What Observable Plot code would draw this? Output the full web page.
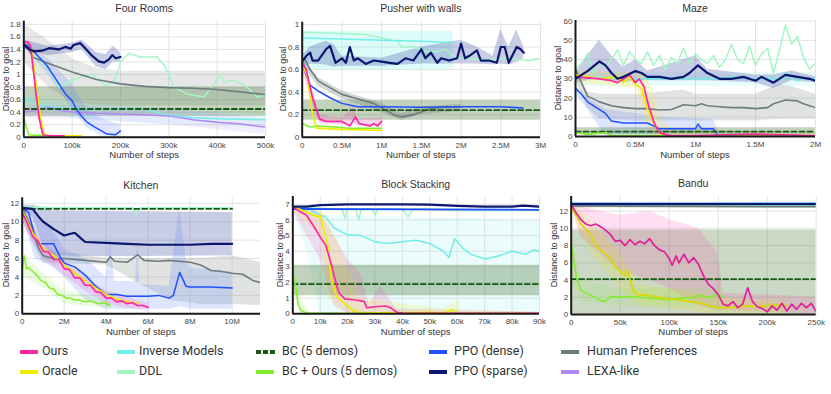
<!DOCTYPE html>
<html><head><meta charset="utf-8">
<script src="https://cdn.jsdelivr.net/npm/d3@7"></script>
<script src="https://cdn.jsdelivr.net/npm/@observablehq/plot@0.6"></script>
<style>
body{margin:0;background:#fff;}
#root{position:relative;width:831px;height:394px;overflow:hidden;background:#fff;font-family:"Liberation Sans",Arial,sans-serif;}
.t{position:absolute;transform:translateX(-50%);white-space:nowrap;color:#333;line-height:1;}
.yl{position:absolute;transform:translate(-50%,-50%) rotate(-90deg);white-space:nowrap;color:#333;line-height:1;}
.lg{position:absolute;font-family:Roboto,"Open Sans",sans-serif;font-size:12.5px;color:#333;white-space:nowrap;}
.sw{position:absolute;height:4px;}
</style></head>
<body><div id="root"></div>
<script>
// ---------- legend ----------
const seriesNames = ["Ours","Oracle","Inverse Models","DDL","BC (5 demos)","BC + Ours (5 demos)","PPO (dense)","PPO (sparse)","Human Preferences","LEXA-like"];
const seriesColors = ["#ff27a2","#eded00","#72eee8","#a3f5c6","#175a17","#82ee2a","#1f4fff","#0b176f","#6d7c7c","#b287f5"];
const C = Object.fromEntries(seriesNames.map((n,i)=>[n,seriesColors[i]]));

// ---------- Four Rooms ----------
const fr_hp = [[0,1.52],[20000,1.27],[50000,1.18],[100000,1.04],[150000,0.92],[200000,0.85],[250000,0.81],[300000,0.79],[350000,0.78],[400000,0.76],[450000,0.72],[500000,0.68]];
const fr_sparse = [[0,1.47],[12000,1.4],[21000,1.37],[38000,1.38],[52000,1.42],[72000,1.4],[86000,1.44],[97000,1.41],[103000,1.47],[117000,1.5],[128000,1.41],[141000,1.3],[155000,1.21],[166000,1.19],[176000,1.24],[183000,1.31],[190000,1.26],[200000,1.28]];
const fr_dense = [[0,1.5],[10000,1.45],[25000,1.33],[48000,1.14],[66000,0.93],[86000,0.69],[100000,0.58],[110000,0.43],[120000,0.33],[131000,0.24],[145000,0.17],[159000,0.11],[172000,0.05],[190000,0.04],[197000,0.08],[200000,0.1]];
const fr_ours = [[0,1.5],[8000,1.52],[14000,1.46],[24000,0.77],[32000,0.3],[38000,0.08],[41000,0.03],[60000,0.02],[83000,0.02]];
const fr_oracle = [[0,1.5],[10000,1.5],[16000,1.42],[27000,0.75],[35000,0.3],[41000,0.08],[45000,0.03],[80000,0.02],[120000,0.02]];
const fr_bco = [[0,0.3],[4000,0.2],[10000,0.04],[20000,0.03],[50000,0.03]];
const fr_inv = [[0,0.63],[15000,0.58],[40000,0.5],[80000,0.46],[150000,0.45],[250000,0.45],[290000,0.36],[350000,0.31],[420000,0.29],[500000,0.28]];
const fr_ddl = [[0,1.5],[21000,1.3],[52000,1.09],[72000,0.8],[100000,0.9],[121000,0.97],[141000,1.01],[155000,0.9],[172000,0.82],[190000,0.93],[200000,1.2],[217000,1.34],[241000,1.28],[276000,1.28],[293000,1.12],[310000,0.8],[338000,0.69],[372000,0.64],[386000,0.77],[407000,1.0],[414000,0.88],[434000,0.91],[462000,0.8],[483000,0.64],[500000,0.67]];
const fr_lexa = [[0,0.4],[20000,0.42],[50000,0.48],[75000,0.43],[100000,0.4],[150000,0.38],[200000,0.37],[250000,0.36],[300000,0.34],[350000,0.28],[400000,0.24],[450000,0.21],[500000,0.16]];
const fr_bc = [[0,0.45],[500000,0.45]];
const fr_bc_band = [[0,0.33,0.8],[500000,0.33,0.8]];
const fr_hp_band = [[0,1.2,1.8],[50000,0.8,1.55],[100000,0.55,1.25],[150000,0.5,1.1],[200000,0.5,1.05],[500000,0.5,1.05]];
const fr_sparse_band = [[0,1.4,1.55],[50000,1.3,1.45],[100000,1.35,1.5],[120000,1.4,1.55],[150000,1.12,1.35],[170000,1.08,1.32],[185000,1.2,1.45],[200000,1.2,1.35]];
const fr_dense_band = [[0,1.45,1.55],[50000,1.0,1.25],[100000,0.45,0.85],[130000,0.15,0.45],[160000,0.02,0.3],[200000,0.01,0.2]];
const fr_inv_band = [[0,0.5,0.7],[100000,0.3,0.55],[300000,0.2,0.45],[500000,0.15,0.35]];
const fr_lexa_band = [[0,0.3,0.5],[100000,0.3,0.5],[300000,0.2,0.45],[500000,0.04,0.3]];

// ---------- Pusher with walls ----------
const pw_sparse = [[0,0.67],[50000,0.72],[100000,0.75],[130000,0.68],[200000,0.68],[300000,0.78],[350000,0.81],[420000,0.66],[500000,0.7],[550000,0.66],[600000,0.8],[650000,0.68],[700000,0.7],[800000,0.65],[900000,0.68],[1000000,0.67],[1100000,0.66],[1200000,0.65],[1300000,0.7],[1400000,0.68],[1500000,0.78],[1550000,0.7],[1620000,0.75],[1700000,0.66],[1750000,0.7],[1850000,0.68],[1950000,0.7],[2000000,0.83],[2050000,0.7],[2100000,0.72],[2200000,0.77],[2250000,0.68],[2350000,0.68],[2450000,0.66],[2500000,0.8],[2550000,0.8],[2600000,0.66],[2700000,0.8],[2750000,0.78],[2790000,0.75]];
const pw_inv = [[0,0.88],[500000,0.87],[1000000,0.86],[1500000,0.85],[1900000,0.84]];
const pw_ddl = [[0,0.9],[50000,0.93],[500000,0.92],[800000,0.91],[1000000,0.88],[1200000,0.85],[1250000,0.8],[1400000,0.8],[1550000,0.76],[1700000,0.76],[1800000,0.78],[1900000,0.72],[2000000,0.7],[2300000,0.69],[2600000,0.7],[2850000,0.68],[3000000,0.7]];
const pw_hp = [[0,0.68],[30000,0.7],[100000,0.6],[200000,0.5],[350000,0.44],[500000,0.38],[650000,0.35],[900000,0.3],[1000000,0.26],[1150000,0.2],[1250000,0.18],[1400000,0.2],[1600000,0.25],[1800000,0.27],[2000000,0.27]];
const pw_dense = [[0,0.66],[50000,0.55],[100000,0.46],[200000,0.41],[350000,0.35],[500000,0.3],[700000,0.27],[1000000,0.27],[1500000,0.265],[2000000,0.27],[2500000,0.27],[2780000,0.26]];
const pw_ours = [[0,0.66],[50000,0.6],[130000,0.35],[220000,0.16],[300000,0.14],[500000,0.14],[600000,0.1],[670000,0.18],[720000,0.12],[850000,0.1],[900000,0.12],[950000,0.1],[1000000,0.14]];
const pw_oracle = [[0,0.65],[60000,0.55],[130000,0.2],[180000,0.08],[500000,0.07],[1000000,0.06]];
const pw_bco = [[0,0.12],[100000,0.09],[200000,0.1],[400000,0.09],[600000,0.08],[1000000,0.08]];
const pw_bc = [[0,0.24],[3000000,0.24]];
const pw_bc_band = [[0,0.15,0.33],[3000000,0.15,0.33]];
const pw_inv_band = [[0,0.6,0.94],[1900000,0.6,0.94]];
const pw_sparse_band = [[0,0.62,0.72],[100000,0.65,0.8],[300000,0.64,0.85],[400000,0.62,0.82],[500000,0.63,0.72],[1000000,0.63,0.7],[1500000,0.65,0.8],[2000000,0.65,0.86],[2200000,0.65,0.8],[2400000,0.64,0.72],[2500000,0.65,0.95],[2600000,0.64,0.8],[2700000,0.66,0.95],[2790000,0.7,0.8]];
const pw_hp_band = [[0,0.65,0.7],[200000,0.45,0.53],[500000,0.34,0.41],[1000000,0.22,0.3],[1250000,0.15,0.21],[1500000,0.2,0.27],[2000000,0.23,0.29]];
const pw_ours_band = [[0,0.6,0.7],[130000,0.3,0.42],[220000,0.12,0.2],[500000,0.11,0.17],[650000,0.12,0.27],[700000,0.1,0.16],[1000000,0.1,0.17]];

// ---------- Maze ----------
const mz_sparse = [[0,30],[100000,34],[200000,39],[250000,37],[300000,33],[350000,30],[400000,31],[500000,34],[550000,33],[600000,31],[700000,31],[800000,30],[900000,31],[950000,33],[1020000,37],[1100000,33],[1200000,30],[1300000,30],[1400000,31],[1500000,29],[1550000,31],[1650000,28],[1750000,32],[1850000,31],[1950000,30],[2000000,29]];
const mz_ddl = [[0,35],[50000,38],[100000,43],[150000,33],[200000,39],[250000,36],[300000,40],[350000,45],[400000,37],[450000,44],[500000,40],[550000,38],[600000,44],[650000,37],[700000,42],[750000,35],[800000,41],[850000,38],[900000,46],[950000,38],[1000000,43],[1050000,40],[1100000,38],[1150000,42],[1200000,36],[1250000,40],[1300000,48],[1350000,40],[1400000,38],[1450000,47],[1500000,37],[1550000,43],[1600000,46],[1650000,33],[1700000,45],[1750000,58],[1800000,48],[1850000,52],[1900000,41],[1950000,35],[2000000,38]];
const mz_inv = [[0,31],[500000,30],[1000000,30],[1200000,30],[1300000,31],[1500000,30],[1740000,30],[1760000,33],[1800000,30],[1850000,29],[1900000,30],[2000000,30]];
const mz_hp = [[0,35],[50000,28],[100000,21],[200000,18],[300000,16],[400000,15],[500000,14.5],[600000,14.5],[700000,13.8],[800000,14],[900000,16.5],[1000000,16],[1050000,17],[1100000,16],[1200000,15.5],[1300000,15],[1400000,15],[1500000,14.5],[1600000,15],[1650000,17],[1750000,19],[1850000,18.5],[1900000,17],[2000000,15]];
const mz_dense = [[0,25],[50000,22],[100000,18],[200000,14],[250000,12],[300000,8],[400000,7],[500000,7],[600000,7],[700000,4],[800000,4],[1000000,4],[1020000,6.5],[1050000,4],[1150000,4],[1180000,1],[1220000,0],[2000000,0]];
const mz_ours = [[0,31],[200000,30],[300000,29],[350000,28],[450000,32],[500000,28],[530000,30],[570000,26],[600000,18],[650000,8],[680000,4],[700000,2],[750000,1],[800000,0.5],[1000000,0.5],[1500000,1.2],[2000000,0.5]];
const mz_oracle = [[0,32],[200000,30],[350000,31],[400000,28],[450000,31],[500000,27],[550000,25],[600000,14],[650000,7],[700000,2],[720000,0],[2000000,0]];
const mz_bco = [[0,2],[100000,1],[250000,2],[300000,0.5],[2000000,0.5]];
const mz_bc = [[0,2.5],[2000000,2.5]];
const mz_bc_band = [[0,1,4.5],[2000000,1,4.5]];
const mz_sparse_band = [[0,28,33],[100000,29,42],[200000,30,50],[300000,29,42],[400000,28,36],[500000,29,40],[600000,29,34],[1000000,29,42],[1100000,29,35],[1500000,28,32],[1650000,25,32],[1800000,29,34],[2000000,28,31]];
const mz_hp_band = [[0,30,36],[100000,15,23],[200000,9,22],[500000,8,22],[900000,8,24],[1000000,8,22],[1500000,8,22],[1700000,9,27],[1800000,9,26],[2000000,9,22]];
const mz_dense_band = [[0,22,27],[100000,14,20],[250000,0,14],[500000,0,12],[700000,0,10],[1150000,0,9],[1200000,0,2],[2000000,0,0.5]];
const mz_inv_band = [[0,26,33],[2000000,26,33]];
const mz_ours_band = [[0,28,34],[500000,25,33],[550000,18,33],[600000,5,30],[650000,0,22],[700000,0,10],[800000,0,3],[2000000,0,2]];

// ---------- Kitchen ----------
const kt_sparse = [[0,11.5],[500000,11.4],[800000,10.5],[1000000,10],[1500000,9.2],[2000000,8.5],[2300000,8.7],[2500000,8.8],[2800000,8.2],[3000000,7.8],[4000000,7.7],[5000000,7.6],[6000000,7.5],[7000000,7.5],[8000000,7.5],[9000000,7.6],[10000000,7.6]];
const kt_dense = [[0,11.5],[300000,11],[600000,8.5],[800000,7.6],[1500000,7.6],[1800000,6.2],[2000000,5.5],[2500000,5.1],[3000000,4.2],[3500000,3],[4000000,2.1],[4500000,2.1],[5000000,1.9],[6000000,1.9],[6500000,2],[7000000,1.7],[7200000,2],[7500000,4.5],[7800000,3],[8000000,2.9],[9000000,2.9],[10000000,2.8]];
const kt_hp = [[0,11.5],[500000,9],[800000,7],[1000000,6.3],[1500000,6],[2000000,6],[3000000,5.8],[4000000,5.6],[4200000,6.2],[4400000,5.7],[5000000,5.6],[5500000,6.4],[5800000,5.8],[6500000,5.7],[7000000,5.8],[8000000,5.6],[8500000,5.3],[9000000,4.7],[9500000,4.6],[10000000,4.4],[10500000,4.3],[11000000,3.6],[11350000,3.4]];
const kt_ours = [[0,11],[250000,9.8],[500000,8.4],[750000,7.9],[1000000,6.8],[1250000,6.7],[1500000,5.9],[1750000,5.9],[2000000,4.9],[2250000,4.8],[2500000,3.9],[2750000,3.9],[3000000,3.1],[3250000,3.1],[3500000,2.4],[3750000,2.3],[4000000,1.7],[4250000,1.7],[4500000,1.3],[4750000,1.4],[5000000,1.1],[5250000,1.2],[5500000,0.9],[5750000,0.9],[6000000,0.7]];
const kt_oracle = [[0,11.2],[500000,8.8],[1000000,7.1],[1500000,6.3],[2000000,5.3],[2500000,4.4],[3000000,3.6],[3500000,2.8],[4000000,2.1],[4500000,1.6],[5000000,1.3],[5500000,1.1]];
const kt_bco = [[0,5.0],[100000,6.3],[200000,4.9],[300000,5.0],[500000,4.6],[700000,4.2],[900000,3.6],[1100000,3.4],[1300000,2.8],[1500000,2.7],[1700000,2.1],[1900000,2.0],[2100000,1.7],[2300000,1.7],[2500000,1.5],[2700000,1.5],[3000000,1.3],[3300000,1.4],[3600000,1.1],[3900000,1.2],[4200000,0.9]];
const kt_ddl = [[0,11.6],[1500000,11.5],[5300000,11.5],[5450000,10.9],[5600000,11.5],[10000000,11.5]];
const kt_bc = [[0,11.4],[10000000,11.4]];
const kt_sparse_band = [[0,11.3,11.8],[500000,10.5,11.8],[1000000,7.5,11.5],[1500000,6.3,11.2],[4000000,6.2,11.1],[10000000,6.3,11.0]];
const kt_dense_band = [[0,11,11.8],[600000,6,11],[1500000,5,9],[2000000,4,7],[3000000,1.5,6],[4000000,0.5,4],[4200000,0.5,8],[4400000,0.5,3.5],[5400000,0.5,3.5],[5500000,0.5,8],[5600000,0.5,3.2],[7000000,0.5,3],[7500000,0.8,11.5],[7800000,0.6,6],[8000000,0.5,5],[10000000,0.5,4.5]];
const kt_hp_band = [[0,10,12],[1000000,5.5,7],[4000000,5.3,6],[7000000,1.5,6],[8500000,1.0,6],[10000000,1.0,6.3],[11350000,0.9,5.6]];
const kt_ours_band = [[0,10,11.8],[1000000,6,7.8],[2000000,4.2,5.8],[3000000,2.5,4],[4000000,1.1,2.5],[5000000,0.6,1.8],[6000000,0.3,1.1]];
const kt_bco_band = [[0,4,6.5],[1000000,2.8,4.4],[2000000,1.1,2.6],[3000000,0.8,2],[4200000,0.5,1.4]];

// ---------- Block Stacking ----------
const bs_sparse = [[0,6.85],[5000,6.85],[10000,6.95],[20000,7.0],[30000,7.0],[40000,7.0],[50000,6.98],[60000,6.9],[70000,6.85],[80000,6.85],[84000,6.92],[90000,6.85]];
const bs_dense = [[0,6.7],[90000,6.65]];
const bs_ddl = [[0,6.8],[10000,6.75],[18000,6.7],[19000,6.1],[20000,6.7],[23000,6.7],[24000,6.0],[25000,6.7],[29000,6.7],[30000,6.3],[31000,6.7],[40000,6.7],[42000,6.2],[44000,6.7],[60000,6.6],[90000,6.6]];
const bs_inv = [[0,6.85],[5000,6.8],[10000,6.3],[12000,6.2],[15000,5.5],[20000,5.05],[25000,5.0],[30000,4.6],[35000,4.5],[40000,4.6],[45000,4.7],[50000,4.5],[55000,4.0],[57000,3.6],[59000,4.8],[60000,4.6],[62000,4.2],[65000,3.8],[70000,3.5],[75000,3.7],[80000,4.0],[85000,3.8],[88000,4.1],[90000,4.0]];
const bs_ours = [[0,6.85],[2000,6.6],[5000,6.3],[8000,5.5],[10000,4.9],[12000,4.4],[14000,3.2],[16000,1.8],[17000,1.3],[19000,0.95],[22000,0.9],[26000,0.8],[27000,0.4],[30000,0.45],[34000,0.5],[36000,0.35],[38000,0.1],[40000,0.05],[90000,0.03]];
const bs_oracle = [[0,6.85],[5000,6.5],[9000,6.2],[10000,6.3],[11000,5.5],[13000,4.2],[14000,2.3],[16000,1.1],[18000,0.8],[20000,0.5],[22000,0.2],[25000,0.05],[50000,0.1],[55000,0.05],[58000,0.25],[60000,0.05],[90000,0.02]];
const bs_bco = [[0,2.6],[1000,1.8],[2000,0.6],[3000,0.2],[5000,0.05],[30000,0.02]];
const bs_bc = [[0,1.9],[90000,1.9]];
const bs_bc_band = [[0,1.15,3.1],[90000,1.15,3.1]];
const bs_inv_band = [[0,6.6,6.9],[5000,4,6.8],[10000,0,6.3],[90000,0,6]];
const bs_ours_band = [[0,6.6,6.9],[5000,5,6.8],[10000,3.5,6.5],[15000,0.5,5],[20000,0,3.5],[25000,0,2.5],[28000,0,0.6],[32000,0,1.8],[38000,0,0.3],[90000,0,0.1]];
const bs_oracle_band = [[0,6.6,6.9],[10000,5,6.8],[13000,1,6],[20000,0,3],[25000,0,1],[55000,0,0.3],[60000,0,0.8],[62000,0,0.2],[90000,0,0.1]];
const bs_bco_band = [[0,1.5,3.5],[3000,0,1],[6000,0,0.1],[30000,0,0.05]];

// ---------- Bandu ----------
const bd_sparse = [[0,12.82],[250000,12.82]];
const bd_inv = [[0,12.92],[250000,12.92]];
const bd_dense = [[0,12.87],[250000,12.87]];
const bd_hp = [[0,12.6],[250000,12.5]];
const bd_ddl = [[0,12.75],[250000,12.65]];
const bd_ours = [[0,12.8],[5000,11.8],[10000,11],[15000,10.5],[20000,10.3],[25000,10.5],[30000,10.2],[35000,9.8],[40000,9.3],[45000,8.5],[50000,8.6],[55000,8.0],[60000,8.7],[65000,8.1],[70000,8.5],[75000,8.2],[80000,8.8],[85000,8.0],[90000,7.5],[95000,7.3],[100000,6.5],[103000,5.7],[107000,6.8],[110000,6.0],[115000,7.0],[120000,6.0],[125000,6.6],[130000,5.8],[135000,4.5],[140000,3.5],[145000,3.0],[150000,2.3],[155000,1.2],[160000,1.0],[165000,1.5],[170000,0.8],[175000,1.2],[180000,3.1],[185000,1.5],[190000,0.9],[195000,0.7],[200000,0.3],[205000,1.0],[210000,0.5],[215000,1.3],[220000,0.4],[225000,1.2],[230000,0.6],[235000,1.3],[240000,0.8],[245000,1.3],[250000,0.3]];
const bd_oracle = [[0,12.5],[5000,11.5],[10000,10.5],[20000,9.3],[25000,8.0],[30000,7.5],[35000,7.0],[40000,6.5],[45000,5.5],[50000,5.0],[55000,4.5],[57000,5.2],[60000,4.0],[63000,2.8],[65000,2.5],[70000,2.3],[80000,2.2],[90000,2.0],[100000,1.8],[110000,1.7],[120000,1.5],[130000,1.4],[140000,1.0],[150000,0.8],[160000,0.8],[170000,0.9],[180000,1.0],[190000,0.9],[200000,1.0],[210000,1.1],[220000,1.0]];
const bd_bco = [[0,8],[3000,6],[6000,4],[10000,2.8],[15000,2.5],[20000,2.2],[25000,2.0],[30000,1.6],[35000,1.5],[40000,2.1],[50000,2.0],[60000,2.1],[70000,2.0],[80000,1.9],[90000,1.8],[100000,1.7],[110000,1.9],[120000,1.9],[130000,2.2],[140000,2.0],[150000,2.3],[155000,2.0]];
const bd_bc = [[0,4.1],[250000,4.1]];
const bd_bc_band = [[0,0,9.8],[250000,0,9.8]];
const bd_top_band = [[0,12.4,12.85],[250000,12.4,12.85]];
const bd_ours_band = [[0,12.5,13],[10000,9,12.5],[30000,7,12],[50000,5,11.5],[80000,4,12],[100000,3,11],[130000,1,10],[150000,0.5,7],[155000,0.5,2.5],[250000,0,2]];
const bd_oracle_band = [[0,12,13],[20000,7,11],[50000,3,7],[70000,1,3.5],[150000,0,2],[220000,0,1.5]];
const bd_bco_band = [[0,4,9],[10000,1.5,4],[50000,1,3],[155000,1,3]];

// ---------- ticks ----------
const frXTicks = [0,100000,200000,300000,400000,500000];
const frYTicks = [0,0.2,0.4,0.6,0.8,1,1.2,1.4,1.6,1.8];
const pwXTicks = [0,500000,1000000,1500000,2000000,2500000,3000000];
const pwYTicks = [0,0.2,0.4,0.6,0.8,1];
const mzXTicks = [0,500000,1000000,1500000,2000000];
const mzYTicks = [0,10,20,30,40,50,60];
const ktXTicks = [0,2000000,4000000,6000000,8000000,10000000];
const ktYTicks = [0,2,4,6,8,10,12];
const bsXTicks = [0,10000,20000,30000,40000,50000,60000,70000,80000,90000];
const bsYTicks = [0,1,2,3,4,5,6,7];
const bdXTicks = [0,50000,100000,150000,200000,250000];
const bdYTicks = [0,2,4,6,8,10,12];

// ---------- helpers ----------
const root = document.getElementById("root");
const fk = d => d === 0 ? "0" : (d/1000) + "k";
const fM = d => d === 0 ? "0" : (d/1e6) + "M";
const fy = d => String(+d.toFixed(1));
const L = (data, color, w=1.5, extra={}) => Plot.line(data, {x: d=>d[0], y: d=>d[1], stroke: color, strokeWidth: w, clip: true, ...extra});
const B = (data, color, op=0.2) => Plot.areaY(data, {x: d=>d[0], y1: d=>d[1], y2: d=>d[2], fill: color, fillOpacity: op, clip: true});
const BC = (data) => L(data, C["BC (5 demos)"], 1.8, {strokeDasharray: "5,3"});

function text(cls, x, y, s, size){
  const d = document.createElement("div");
  d.className = cls; d.textContent = s;
  d.style.left = x + "px"; d.style.top = y + "px"; d.style.fontSize = size + "px";
  root.appendChild(d);
}

function panel(cfg){
  const {left, top, w, h, fx0, fx1, fy0, fy1, xd, yd, xt, yt, xf, title, titleY, xlY, ylX, marks} = cfg;
  const svg = Plot.plot({
    width: w, height: h,
    marginLeft: fx0-left, marginRight: left+w-fx1, marginTop: fy0-top, marginBottom: top+h-fy1,
    x: {domain: xd}, y: {domain: yd},
    style: {fontFamily: "'Liberation Sans', Arial, sans-serif", fontSize: "8px", color: "#444", background: "transparent", overflow: "visible"},
    marks: [
      Plot.gridX(xt, {stroke: "#e3e3e3", strokeOpacity: 1}),
      Plot.gridY(yt, {stroke: "#e3e3e3", strokeOpacity: 1}),
      ...marks,
      Plot.axisX(xt, {tickFormat: xf, tickSize: 0, tickPadding: 5, label: null}),
      Plot.axisY(yt, {tickFormat: fy, tickSize: 0, tickPadding: 3, label: null}),
      Plot.ruleX([xd[0]], {stroke: "#1a1a1a", strokeWidth: 2}),
      Plot.ruleY([yd[0]], {stroke: "#1a1a1a", strokeWidth: 2})
    ]
  });
  svg.style.position = "absolute";
  svg.style.left = left + "px"; svg.style.top = top + "px";
  root.appendChild(svg);
  const cx = (fx0 + fx1) / 2;
  text("t", cx, titleY, title, 10.5);
  text("t", cx, xlY, "Number of steps", 9.5);
  text("yl", ylX, (fy0 + fy1) / 2, "Distance to goal", 9);
}

panel({left:0, top:0, w:275, h:160, fx0:23.3, fx1:265, fy0:20.7, fy1:136.7, xd:[0,500000], yd:[0,1.85], xt:frXTicks, yt:frYTicks, xf:fk,
  title:"Four Rooms", titleY:3, xlY:150, ylX:6,
  marks:[B(fr_hp_band,"#9aa3a3",0.25), B(fr_bc_band,"#4f7f40",0.35), B(fr_inv_band,C["Inverse Models"],0.15), B(fr_lexa_band,C["LEXA-like"],0.15),
    B(fr_sparse_band,"#4a55a5",0.3), B(fr_dense_band,"#5a80ff",0.2),
    L(fr_ddl,C["DDL"]), L(fr_inv,C["Inverse Models"]), L(fr_hp,C["Human Preferences"],1.6), L(fr_lexa,C["LEXA-like"]),
    L(fr_dense,C["PPO (dense)"]), BC(fr_bc), L(fr_bco,C["BC + Ours (5 demos)"]), L(fr_oracle,C["Oracle"],1.7), L(fr_ours,C["Ours"],1.7), L(fr_sparse,C["PPO (sparse)"],2.2)]});

panel({left:275, top:0, w:275, h:160, fx0:301.7, fx1:540, fy0:21.7, fy1:136.7, xd:[0,3000000], yd:[0,1.02], xt:pwXTicks, yt:pwYTicks, xf:fM,
  title:"Pusher with walls", titleY:3, xlY:150, ylX:283,
  marks:[B(pw_inv_band,C["Inverse Models"],0.25), B(pw_bc_band,"#4f7f40",0.35), B(pw_sparse_band,"#4a55a5",0.3), B(pw_hp_band,"#6d7c7c",0.3), B(pw_ours_band,C["Ours"],0.2),
    L(pw_ddl,C["DDL"]), L(pw_inv,C["Inverse Models"]), L(pw_hp,C["Human Preferences"],1.6), L(pw_dense,C["PPO (dense)"]), BC(pw_bc),
    L(pw_bco,C["BC + Ours (5 demos)"]), L(pw_oracle,C["Oracle"],1.7), L(pw_ours,C["Ours"],1.7), L(pw_sparse,C["PPO (sparse)"],2.2)]});

panel({left:550, top:0, w:281, h:160, fx0:575, fx1:815, fy0:20, fy1:136, xd:[0,2000000], yd:[0,60.3], xt:mzXTicks, yt:mzYTicks, xf:fM,
  title:"Maze", titleY:3, xlY:150, ylX:558,
  marks:[B(mz_hp_band,"#9aa3a3",0.3), B(mz_inv_band,C["Inverse Models"],0.15), B(mz_sparse_band,"#4a55a5",0.3), B(mz_dense_band,"#5a80ff",0.2),
    B(mz_ours_band,"#ffe040",0.25), B(mz_bc_band,"#4f7f40",0.35),
    L(mz_ddl,C["DDL"]), L(mz_inv,C["Inverse Models"]), L(mz_hp,C["Human Preferences"],1.6), L(mz_dense,C["PPO (dense)"]), BC(mz_bc),
    L(mz_bco,C["BC + Ours (5 demos)"]), L(mz_oracle,C["Oracle"],1.7), L(mz_ours,C["Ours"],1.7), L(mz_sparse,C["PPO (sparse)"],2.2)]});

panel({left:0, top:165, w:275, h:160, fx0:21.7, fx1:260, fy0:197.3, fy1:313.3, xd:[0,11350000], yd:[0,12.6], xt:ktXTicks, yt:ktYTicks, xf:fM,
  title:"Kitchen", titleY:180, xlY:327, ylX:6,
  marks:[B(kt_sparse_band,"#4a55a5",0.3), B(kt_hp_band,"#9aa3a3",0.3), B(kt_dense_band,"#5a80ff",0.2), B(kt_ours_band,C["Ours"],0.15), B(kt_bco_band,C["BC + Ours (5 demos)"],0.15),
    L(kt_ddl,C["DDL"],2), L(kt_hp,C["Human Preferences"],1.6), L(kt_dense,C["PPO (dense)"]), BC(kt_bc),
    L(kt_bco,C["BC + Ours (5 demos)"]), L(kt_oracle,C["Oracle"],1.7), L(kt_ours,C["Ours"],1.7), L(kt_sparse,C["PPO (sparse)"],2.2)]});

panel({left:275, top:165, w:275, h:160, fx0:292.3, fx1:539, fy0:196, fy1:313.3, xd:[0,90000], yd:[0,7.5], xt:bsXTicks, yt:bsYTicks, xf:fk,
  title:"Block Stacking", titleY:179, xlY:327, ylX:280,
  marks:[B(bs_inv_band,C["Inverse Models"],0.15), B(bs_bc_band,"#4f7f40",0.35), B(bs_ours_band,C["Ours"],0.15), B(bs_oracle_band,C["Oracle"],0.15), B(bs_bco_band,C["BC + Ours (5 demos)"],0.15),
    L(bs_ddl,C["DDL"]), L(bs_inv,C["Inverse Models"]), L(bs_dense,C["PPO (dense)"],1.8), BC(bs_bc),
    L(bs_bco,C["BC + Ours (5 demos)"]), L(bs_oracle,C["Oracle"],1.7), L(bs_ours,C["Ours"],1.7), L(bs_sparse,C["PPO (sparse)"],2.2)]});

panel({left:550, top:165, w:281, h:160, fx0:570.7, fx1:815.7, fy0:196, fy1:314, xd:[0,250000], yd:[0,13.7], xt:bdXTicks, yt:bdYTicks, xf:fk,
  title:"Bandu", titleY:178, xlY:327, ylX:554,
  marks:[B(bd_bc_band,"#4f7f40",0.3), B(bd_ours_band,C["Ours"],0.15), B(bd_oracle_band,C["Oracle"],0.15), B(bd_bco_band,C["BC + Ours (5 demos)"],0.12), B(bd_top_band,"#6d7c7c",0.5),
    L(bd_ddl,C["DDL"]), L(bd_hp,C["Human Preferences"]), L(bd_inv,C["Inverse Models"],1.6), L(bd_dense,C["PPO (dense)"],1.6), BC(bd_bc),
    L(bd_bco,C["BC + Ours (5 demos)"]), L(bd_oracle,"#d8d800",1.7), L(bd_ours,"#e0209a",1.7), L(bd_sparse,C["PPO (sparse)"],2.2)]});

// ---------- legend ----------
const legendSwatchX = [20, 117, 256, 429, 561];
const legendTextX = [42, 139, 282, 454, 587];
const legendRowY = [352, 372];
seriesNames.forEach((name, i) => {
  const col = Math.floor(i/2), row = i % 2;
  const color = seriesColors[i];
  if (name === "BC (5 demos)") {
    for (let k = 0; k < 3; k++) {
      const s = document.createElement("div"); s.className = "sw";
      s.style.left = (legendSwatchX[col] + k*7) + "px"; s.style.top = (legendRowY[row]-2) + "px";
      s.style.width = "5px"; s.style.background = color; root.appendChild(s);
    }
  } else {
    const s = document.createElement("div"); s.className = "sw";
    s.style.left = legendSwatchX[col] + "px"; s.style.top = (legendRowY[row]-2) + "px";
    s.style.width = "18px"; s.style.background = color; root.appendChild(s);
  }
  const t = document.createElement("div"); t.className = "lg"; t.textContent = name;
  t.style.left = legendTextX[col] + "px"; t.style.top = (legendRowY[row]-9) + "px";
  root.appendChild(t);
});
</script></body></html>
